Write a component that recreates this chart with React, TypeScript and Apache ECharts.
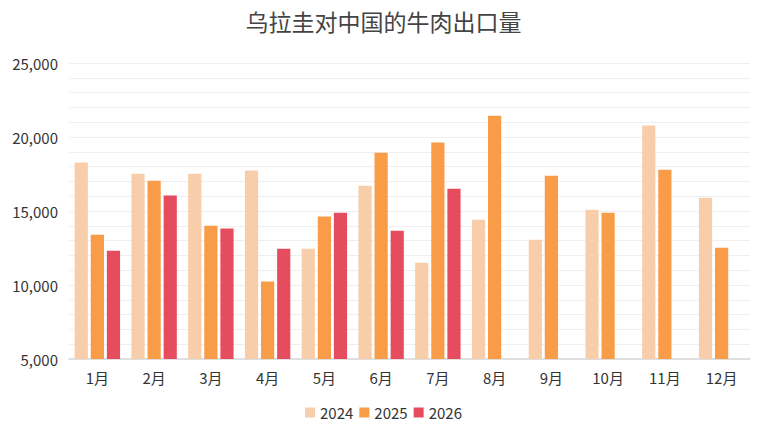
import React, { useEffect, useRef } from "react";
import * as echarts from "echarts";

const title = "乌拉圭对中国的牛肉出口量";
const months = ["1月", "2月", "3月", "4月", "5月", "6月", "7月", "8月", "9月", "10月", "11月", "12月"];
const seriesNames = ["2024", "2025", "2026"];
const values2024 = [18270, 17520, 17520, 17730, 12450, 16710, 11510, 14410, 13060, 15090, 20770, 15900];
const values2025 = [13400, 17050, 14010, 10230, 14620, 18940, 19620, 21440, 17390, 14890, 17790, 12520];
const values2026 = [12320, 16040, 13810, 12450, 14890, 13670, 16510, null, null, null, null, null];
const colors = ["#F8CDA9", "#F89C47", "#E54D5F"];
const yMin = 5000;
const yMax = 25000;
const yInterval = 5000;

export default function App() {
  const ref = useRef<HTMLDivElement>(null);
  useEffect(() => {
    if (!ref.current) return;
    const chart = echarts.init(ref.current, null, { renderer: "svg" });
    const font = "'Noto Sans CJK SC', 'Noto Sans', sans-serif";
    const data = [values2024, values2025, values2026];
    chart.setOption({
      animation: false,
      color: colors,
      textStyle: { fontFamily: font },
      title: {
        text: title,
        left: "center",
        top: 4,
        textStyle: { fontSize: 23, fontWeight: "normal", color: "#444", fontFamily: font },
      },
      legend: {
        bottom: 13,
        left: "center",
        icon: "rect",
        itemWidth: 10,
        itemHeight: 10,
        itemGap: 6,
        textStyle: { fontSize: 15, color: "#333", fontFamily: font },
        data: seriesNames,
      },
      grid: { left: 69, right: 17, top: 63, bottom: 79, containLabel: false },
      xAxis: {
        type: "category",
        data: months,
        axisTick: { show: false },
        axisLine: { lineStyle: { color: "#d9d9d9", width: 1.5 } },
        axisLabel: { fontSize: 15, color: "#333", margin: 11, fontFamily: font },
      },
      yAxis: {
        type: "value",
        min: yMin,
        max: yMax,
        interval: yInterval,
        axisLine: { show: false },
        axisTick: { show: false },
        axisLabel: {
          fontSize: 15,
          color: "#333",
          margin: 11,
          fontFamily: font,
          formatter: (v: number) => v.toLocaleString("en-US"),
        },
        splitLine: { lineStyle: { color: "#efefef", width: 1 } },
        minorTick: { show: false, splitNumber: 5 },
        minorSplitLine: { show: true, lineStyle: { color: "#efefef", width: 1 } },
      },
      series: seriesNames.map((name, i) => ({
        name,
        type: "bar",
        data: data[i],
        barGap: "22%",
        barCategoryGap: "20%",
      })),
    });
    return () => chart.dispose();
  }, []);
  return (
    <div
      ref={ref}
      style={{ position: "fixed", left: 0, top: 0, width: 767, height: 438, background: "#fff" }}
    />
  );
}
